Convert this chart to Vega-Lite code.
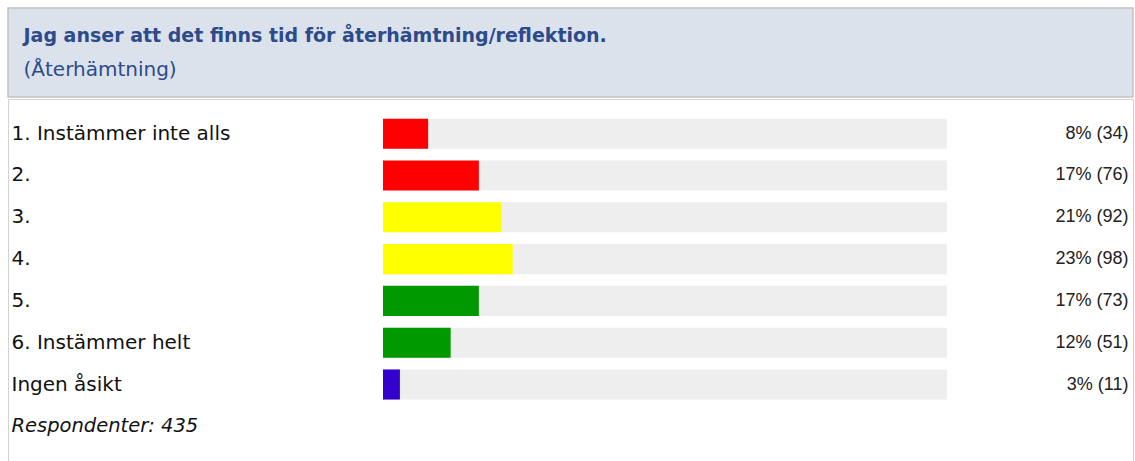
{
  "$schema": "https://vega.github.io/schema/vega-lite/v6.json",
  "padding": {"left": 7, "top": 7, "right": 0, "bottom": 0},
  "background": "white",
  "spacing": 0,
  "datasets": {
    "header": [
      {"line": "Jag anser att det finns tid för återhämtning/reflektion."},
      {"line": "(Återhämtning)"}
    ],
    "rows": [
      {"label": "1. Instämmer inte alls", "vlabel": "8% (34)", "pct": 8, "count": 34, "grp": "neg"},
      {"label": "2.", "vlabel": "17% (76)", "pct": 17, "count": 76, "grp": "neg"},
      {"label": "3.", "vlabel": "21% (92)", "pct": 21, "count": 92, "grp": "mid"},
      {"label": "4.", "vlabel": "23% (98)", "pct": 23, "count": 98, "grp": "mid"},
      {"label": "5.", "vlabel": "17% (73)", "pct": 17, "count": 73, "grp": "pos"},
      {"label": "6. Instämmer helt", "vlabel": "12% (51)", "pct": 12, "count": 51, "grp": "pos"},
      {"label": "Ingen åsikt", "vlabel": "3% (11)", "pct": 3, "count": 11, "grp": "none"}
    ]
  },
  "vconcat": [
    {
      "width": 1125,
      "height": 89,
      "data": {"name": "header"},
      "view": {"fill": "#dbe2ec", "stroke": "#c2c2c2", "strokeWidth": 1.5},
      "mark": {"type": "text", "text": ""},
      "encoding": {
        "y": {
          "field": "line",
          "type": "nominal",
          "sort": null,
          "scale": {
            "type": "point",
            "domain": ["Jag anser att det finns tid för återhämtning/reflektion.", "(Återhämtning)"],
            "padding": 0.81
          },
          "axis": {
            "orient": "left",
            "title": null,
            "domain": false,
            "ticks": false,
            "tickSize": 0,
            "labelPadding": -15,
            "labelAlign": "left",
            "labelLimit": 1100,
            "labelFont": "DejaVu Sans",
            "labelFontSize": {"condition": {"test": "datum.value == '(Återhämtning)'", "value": 20}, "value": 19},
            "labelFontWeight": {"condition": {"test": "datum.value == '(Återhämtning)'", "value": "normal"}, "value": "bold"},
            "labelColor": "#2d4b8b"
          }
        }
      }
    },
    {
      "width": 1125,
      "height": 362,
      "data": {"name": "rows"},
      "view": {"fill": "white", "stroke": "#d2d2d2"},
      "layer": [
        {
          "mark": {"type": "bar", "color": "#eeeeee"},
          "encoding": {
            "x": {"datum": 0, "type": "quantitative", "scale": {"domain": [-66.5, 133], "nice": false, "zero": false}, "axis": null},
            "x2": {"datum": 100},
            "y": {
              "field": "vlabel",
              "type": "nominal",
              "sort": null,
              "scale": {
                "domain": ["8% (34)", "17% (76)", "21% (92)", "23% (98)", "17% (73)", "12% (51)", "3% (11)", " "],
                "paddingInner": 0.28,
                "paddingOuter": 0.47
              },
              "axis": {
                "orient": "right",
                "title": null,
                "domain": false,
                "ticks": false,
                "tickSize": 0,
                "labelPadding": -5,
                "labelAlign": "right",
                "labelLimit": 400,
                "labelFont": "Liberation Sans",
                "labelFontSize": 18,
                "labelColor": "#222222"
              }
            }
          }
        },
        {
          "mark": {"type": "bar"},
          "encoding": {
            "x": {"field": "pct", "type": "quantitative", "stack": null, "scale": {"domain": [-66.5, 133], "nice": false, "zero": false}, "axis": null},
            "x2": {"datum": 0},
            "y": {
              "field": "label",
              "type": "nominal",
              "sort": null,
              "scale": {
                "domain": ["1. Instämmer inte alls", "2.", "3.", "4.", "5.", "6. Instämmer helt", "Ingen åsikt", "Respondenter: 435"],
                "paddingInner": 0.28,
                "paddingOuter": 0.47
              },
              "axis": {
                "orient": "left",
                "title": null,
                "domain": false,
                "ticks": false,
                "tickSize": 0,
                "labelPadding": -3,
                "labelAlign": "left",
                "labelLimit": 400,
                "labelFont": "DejaVu Sans",
                "labelFontSize": {"condition": {"test": "datum.value == 'Respondenter: 435'", "value": 19.5}, "value": 20},
                "labelFontStyle": {"condition": {"test": "datum.value == 'Respondenter: 435'", "value": "italic"}, "value": "normal"},
                "labelColor": "#111111"
              }
            },
            "color": {
              "field": "grp",
              "type": "nominal",
              "scale": {"domain": ["neg", "mid", "pos", "none"], "range": ["#ff0000", "#ffff00", "#009900", "#3300cc"]},
              "legend": null
            }
          }
        }
      ],
      "resolve": {"scale": {"y": "independent"}}
    }
  ]
}
